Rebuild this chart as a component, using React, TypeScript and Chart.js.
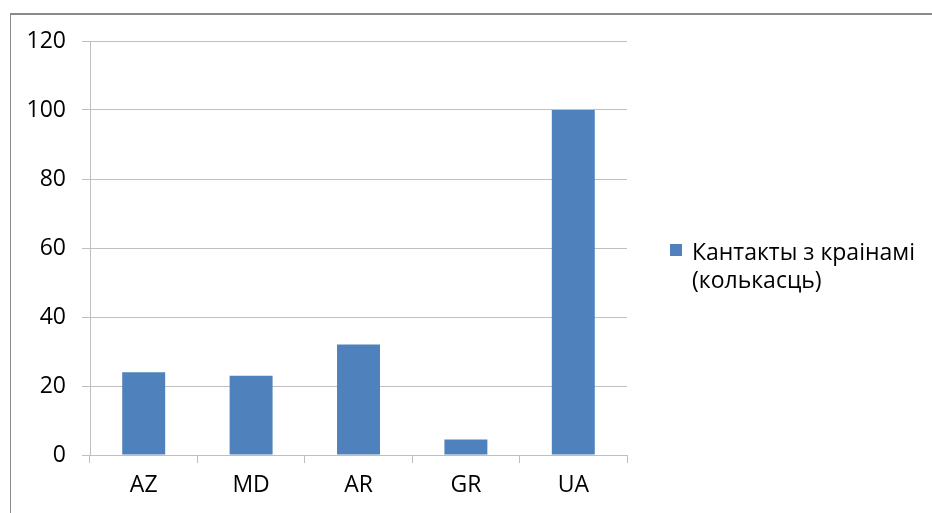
import React, { useEffect, useRef } from "react";
import { Chart, registerables } from "chart.js";

Chart.register(...registerables);

const categories = ["AZ", "MD", "AR", "GR", "UA"];
const contacts = [24, 23, 32, 4.5, 100];
const seriesLabelLines = ["Кантакты з краінамі", "(колькасць)"];
const yTicks = [0, 20, 40, 60, 80, 100, 120];

const BAR_COLOR = "#4f81bd";
const GRID_COLOR = "#bfbfbf";
const FONT_FAMILY = "'Open Sans', sans-serif";
const FONT_SIZE = 23;

const legendPlugin = {
  id: "sideLegend",
  afterDraw(chart: any) {
    const ctx = chart.ctx;
    const area = chart.chartArea;
    const ds = chart.data.datasets[0];
    const x0 = area.right + 43;
    const midY = (area.top + area.bottom) / 2;
    const lineH = 28;
    const firstBaseline = midY + 12;
    ctx.save();
    ctx.fillStyle = ds.backgroundColor;
    ctx.fillRect(x0, firstBaseline - 16, 12, 12);
    ctx.fillStyle = "#000000";
    ctx.font = `${FONT_SIZE}px ${FONT_FAMILY}`;
    ctx.textAlign = "left";
    ctx.textBaseline = "alphabetic";
    seriesLabelLines.forEach((line, i) => {
      ctx.fillText(line, x0 + 22, firstBaseline + i * lineH);
    });
    ctx.restore();
  },
};

export default function App() {
  const ref = useRef<HTMLCanvasElement | null>(null);

  useEffect(() => {
    if (!ref.current) return;
    const chart = new Chart(ref.current, {
      type: "bar",
      data: {
        labels: categories,
        datasets: [
          {
            label: seriesLabelLines.join(" "),
            data: contacts,
            backgroundColor: BAR_COLOR,
            borderWidth: 0,
            barPercentage: 0.4,
            categoryPercentage: 1,
          },
        ],
      },
      options: {
        animation: false,
        responsive: false,
        maintainAspectRatio: false,
        layout: { padding: { top: 41, right: 305, left: 0, bottom: 0 } },
        plugins: {
          legend: { display: false },
          tooltip: { enabled: false },
        },
        scales: {
          x: {
            grid: {
              drawOnChartArea: false,
              drawTicks: true,
              tickLength: 8,
              color: GRID_COLOR,
              offset: true,
            },
            border: { color: GRID_COLOR },
            ticks: {
              color: "#000000",
              font: { family: FONT_FAMILY, size: FONT_SIZE },
              padding: 9,
            },
            afterFit(scale: any) {
              scale.height = 58;
            },
          },
          y: {
            min: 0,
            max: 120,
            grid: { color: GRID_COLOR, tickLength: 8 },
            border: { color: GRID_COLOR },
            afterBuildTicks(scale: any) {
              scale.ticks = yTicks.map((v) => ({ value: v }));
            },
            ticks: {
              color: "#000000",
              font: { family: FONT_FAMILY, size: FONT_SIZE },
              padding: 16,
            },
            afterFit(scale: any) {
              scale.width = 90;
            },
          },
        },
      },
      plugins: [legendPlugin],
    });
    return () => chart.destroy();
  }, []);

  return (
    <div style={{ position: "absolute", left: 0, top: 0, width: 932, height: 513, background: "#fff", overflow: "hidden" }}>
      <div
        style={{
          position: "absolute",
          left: 10,
          top: 13,
          width: 940,
          height: 520,
          borderTop: "2px solid #8a8a8a",
          borderLeft: "1px solid #8a8a8a",
          boxSizing: "border-box",
        }}
      />
      <canvas ref={ref} width={932} height={513} style={{ position: "absolute", left: 0, top: 0, width: 932, height: 513 }} />
    </div>
  );
}
